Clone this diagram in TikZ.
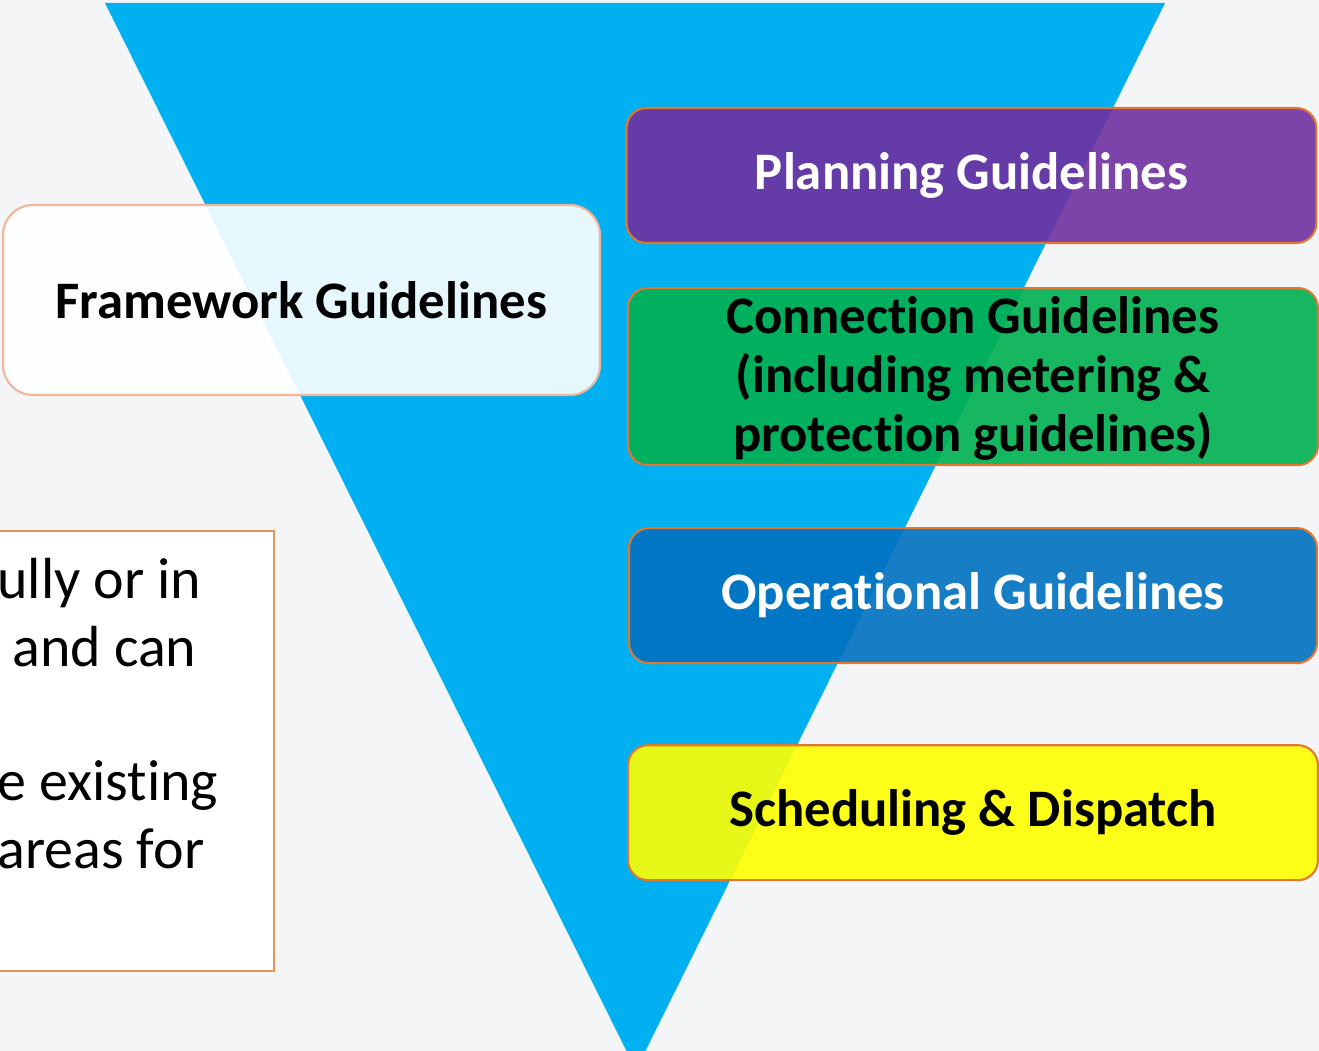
\documentclass[tikz,border=0pt]{standalone}
\usepackage{fontspec}
\setmainfont{Carlito}[Ligatures=NoCommon]
\usepackage{tikz}
\usetikzlibrary{positioning}
\usepackage{xcolor}
\definecolor{bgcol}{HTML}{F4F5F7}
\definecolor{funnel}{HTML}{00B0F0}
\definecolor{edgeorange}{HTML}{E0782F}
\definecolor{softorange}{HTML}{F2B59C}
\definecolor{planpurple}{HTML}{7030A0}
\definecolor{conngreen}{HTML}{00B050}
\definecolor{operblue}{HTML}{0070C0}
\definecolor{schedyellow}{HTML}{FFFF00}

\begin{document}
\begin{tikzpicture}[
    x=0.02cm, y=-0.02cm,
    guide/.style={rectangle, draw=edgeorange, line width=1.2pt, rounded corners=0.4cm, fill opacity=0.9, text opacity=1, minimum width=13.8cm, minimum height=2.7cm, align=center, font=\fontsize{30}{33.6}\selectfont\bfseries},
    node distance=0.9cm
]
    \useasboundingbox (0,0) rectangle (1319,1051);
    \clip (0,0) rectangle (1319,1051);
    \fill[bgcol] (0,0) rectangle (1319,1051);
    % funnel
    \fill[funnel] (105,3) -- (1165,3) -- (636,1070) -- cycle;

    \node[guide, fill=white, fill opacity=0.9, draw=softorange, rounded corners=0.6cm, minimum width=11.94cm, minimum height=3.8cm, text=black] (frame) at (301.5,300) {Framework Guidelines};

    \node[guide, fill=planpurple, text=white] (plan) at (971.5,175.5) {Planning Guidelines};
    \node[guide, fill=conngreen, text=black, minimum height=3.54cm, text depth=0.1cm, below=0.86cm of plan.south, anchor=north, xshift=0.03cm] (conn) {Connection Guidelines\\(including metering \&\\protection guidelines)};
    \node[guide, fill=operblue, text=white, minimum width=13.76cm, below=1.22cm of conn.south, anchor=north] (oper) {Operational Guidelines};
    \node[guide, fill=schedyellow, text=black, below=1.6cm of oper.south, anchor=north] (sched) {Scheduling \& Dispatch};

    % cut-off note box on the left
    \draw[edgeorange!80, line width=0.8pt, fill=white] (-20,531) rectangle (274,971);
    \node[anchor=base west, align=left, inner sep=0pt, font=\fontsize{33}{38.3}\selectfont] (note) at (-3,868) {ully or in\\\hspace*{0.3cm}and can\\[38.3pt]e existing\\areas for};
\end{tikzpicture}
\end{document}
